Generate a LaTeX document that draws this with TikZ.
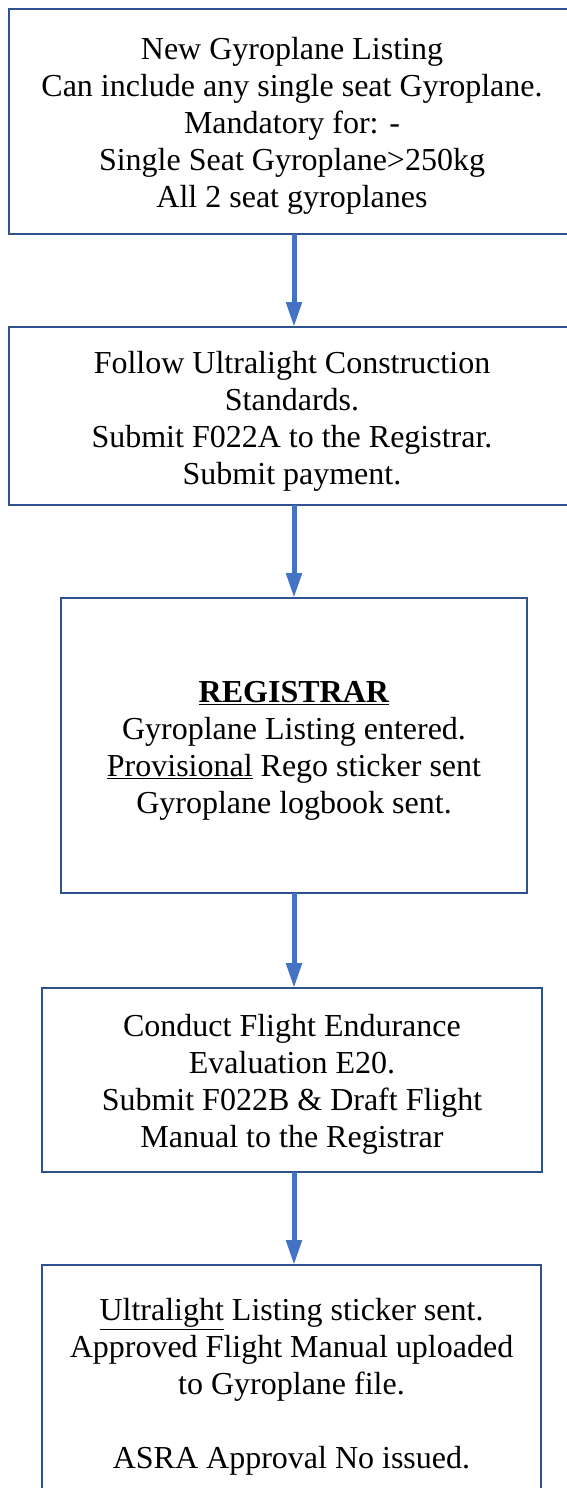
\documentclass[tikz,border=0pt]{standalone}
\usepackage{fontspec}
\setmainfont{Liberation Serif}
\usetikzlibrary{arrows.meta}
\definecolor{boxblue}{HTML}{2F528F}
\definecolor{arrblue}{HTML}{4472C4}
\begin{document}
\begin{tikzpicture}[x=1pt,y=-1pt,
  box/.style={draw=boxblue,line width=2.8pt,rectangle,inner sep=0pt,outer sep=0pt},
  txt/.style={inner sep=0pt,align=center,font=\fontsize{32}{37}\selectfont},
  arr/.style={draw=arrblue,line width=5pt,-{Triangle[length=25pt,width=15pt]}}]
\useasboundingbox (0,0) rectangle (566,1488);
\node[box,minimum width=566pt,minimum height=225pt] (b1) at (292,121.5) {};
\node[txt] (t1) at (292,125.5)
  {New Gyroplane Listing\\Can include any single seat Gyroplane.\\Mandatory for: -\\Single Seat Gyroplane>250kg\\All 2 seat gyroplanes};
\node[box,minimum width=566pt,minimum height=178pt] (b2) at (292,416) {};
\node[txt] (t2) at (292,421)
  {Follow Ultralight Construction\\Standards.\\Submit F022A to the Registrar.\\Submit payment.};
\node[box,minimum width=466pt,minimum height=295pt] (b3) at (294,745.5) {};
\node[txt] (t3) at (294,750.5)
  {\underline{\textbf{REGISTRAR}}\\Gyroplane Listing entered.\\\underline{Provisional} Rego sticker sent\\Gyroplane logbook sent.};
\node[box,minimum width=500pt,minimum height=184pt] (b4) at (292,1080) {};
\node[txt] (t4) at (292,1084)
  {Conduct Flight Endurance\\Evaluation E20.\\Submit F022B \& Draft Flight\\Manual to the Registrar};
\node[box,minimum width=499pt,minimum height=238pt] (b5) at (291.5,1384) {};
\node[txt] (t5) at (291.5,1387)
  {\underline{Ultralight} Listing sticker sent.\\Approved Flight Manual uploaded\\to Gyroplane file.\\[37pt]ASRA Approval No issued.};
\draw[arr] ([xshift=2pt]b1.south) -- ([xshift=2pt]b2.north);
\draw[arr] ([xshift=2pt]b2.south) -- (b3.north);
\draw[arr] (b3.south) -- ([xshift=2pt]b4.north);
\draw[arr] ([xshift=2pt]b4.south) -- ([xshift=2.5pt]b5.north);
\end{tikzpicture}
\end{document}
